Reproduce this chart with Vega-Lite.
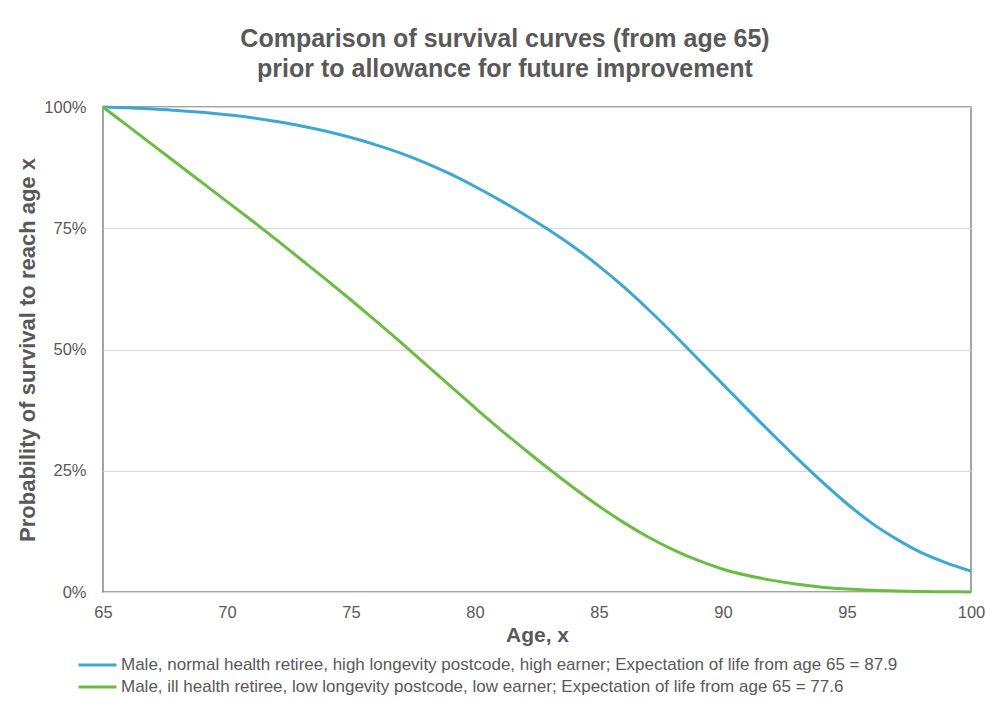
{
  "$schema": "https://vega.github.io/schema/vega-lite/v6.json",
  "width": 868,
  "height": 485,
  "autosize": {"type": "none"},
  "padding": {"left": 103, "top": 107, "right": 15, "bottom": 109},
  "background": "white",
  "title": {
    "text": ["Comparison of survival curves (from age 65)", "prior to allowance for future improvement"],
    "font": "Liberation Sans",
    "fontSize": 25,
    "fontWeight": "bold",
    "color": "#595959",
    "anchor": "middle",
    "frame": "group",
    "dx": -32,
    "offset": 17,
    "lineHeight": 30
  },
  "config": {
    "view": {"stroke": "#868686", "strokeWidth": 1.5},
    "font": "Liberation Sans"
  },
  "data": {
    "values": [
      {"age": 65, "s": "blue", "p": 100}, {"age": 66, "s": "blue", "p": 99.85}, {"age": 67, "s": "blue", "p": 99.6}, {"age": 68, "s": "blue", "p": 99.3}, {"age": 69, "s": "blue", "p": 98.9}, {"age": 70, "s": "blue", "p": 98.4}, {"age": 71, "s": "blue", "p": 97.8}, {"age": 72, "s": "blue", "p": 97.0}, {"age": 73, "s": "blue", "p": 96.1}, {"age": 74, "s": "blue", "p": 95.0}, {"age": 75, "s": "blue", "p": 93.7}, {"age": 76, "s": "blue", "p": 92.2}, {"age": 77, "s": "blue", "p": 90.5}, {"age": 78, "s": "blue", "p": 88.5}, {"age": 79, "s": "blue", "p": 86.2}, {"age": 80, "s": "blue", "p": 83.6}, {"age": 81, "s": "blue", "p": 80.8}, {"age": 82, "s": "blue", "p": 77.8}, {"age": 83, "s": "blue", "p": 74.6}, {"age": 84, "s": "blue", "p": 71.1}, {"age": 85, "s": "blue", "p": 67.2}, {"age": 86, "s": "blue", "p": 62.9}, {"age": 87, "s": "blue", "p": 58.2}, {"age": 88, "s": "blue", "p": 53.2}, {"age": 89, "s": "blue", "p": 48.0}, {"age": 90, "s": "blue", "p": 42.8}, {"age": 91, "s": "blue", "p": 37.6}, {"age": 92, "s": "blue", "p": 32.5}, {"age": 93, "s": "blue", "p": 27.5}, {"age": 94, "s": "blue", "p": 22.7}, {"age": 95, "s": "blue", "p": 18.2}, {"age": 96, "s": "blue", "p": 14.2}, {"age": 97, "s": "blue", "p": 10.9}, {"age": 98, "s": "blue", "p": 8.1}, {"age": 99, "s": "blue", "p": 6.0}, {"age": 100, "s": "blue", "p": 4.3},
      {"age": 65, "s": "green", "p": 100}, {"age": 66, "s": "green", "p": 96.1}, {"age": 67, "s": "green", "p": 92.2}, {"age": 68, "s": "green", "p": 88.3}, {"age": 69, "s": "green", "p": 84.4}, {"age": 70, "s": "green", "p": 80.5}, {"age": 71, "s": "green", "p": 76.6}, {"age": 72, "s": "green", "p": 72.6}, {"age": 73, "s": "green", "p": 68.5}, {"age": 74, "s": "green", "p": 64.4}, {"age": 75, "s": "green", "p": 60.2}, {"age": 76, "s": "green", "p": 55.9}, {"age": 77, "s": "green", "p": 51.5}, {"age": 78, "s": "green", "p": 47.0}, {"age": 79, "s": "green", "p": 42.5}, {"age": 80, "s": "green", "p": 38.0}, {"age": 81, "s": "green", "p": 33.6}, {"age": 82, "s": "green", "p": 29.4}, {"age": 83, "s": "green", "p": 25.3}, {"age": 84, "s": "green", "p": 21.4}, {"age": 85, "s": "green", "p": 17.7}, {"age": 86, "s": "green", "p": 14.3}, {"age": 87, "s": "green", "p": 11.3}, {"age": 88, "s": "green", "p": 8.7}, {"age": 89, "s": "green", "p": 6.5}, {"age": 90, "s": "green", "p": 4.7}, {"age": 91, "s": "green", "p": 3.4}, {"age": 92, "s": "green", "p": 2.4}, {"age": 93, "s": "green", "p": 1.6}, {"age": 94, "s": "green", "p": 1.0}, {"age": 95, "s": "green", "p": 0.6}, {"age": 96, "s": "green", "p": 0.35}, {"age": 97, "s": "green", "p": 0.2}, {"age": 98, "s": "green", "p": 0.1}, {"age": 99, "s": "green", "p": 0.05}, {"age": 100, "s": "green", "p": 0.02}
    ]
  },
  "mark": {"type": "line", "strokeWidth": 3, "interpolate": "monotone"},
  "encoding": {
    "x": {
      "field": "age", "type": "quantitative",
      "scale": {"domain": [65, 100], "nice": false, "zero": false},
      "axis": {
        "values": [65, 70, 75, 80, 85, 90, 95, 100],
        "grid": false, "ticks": false, "domain": false, "labelFlush": false, "labelOverlap": false,
        "labelFontSize": 16.5, "labelColor": "#595959", "labelPadding": 12, "labelFont": "Liberation Sans",
        "title": "Age, x", "titleFontSize": 21, "titleFontWeight": "bold", "titleColor": "#595959", "titlePadding": 4, "titleFont": "Liberation Sans"
      }
    },
    "y": {
      "field": "p", "type": "quantitative",
      "scale": {"domain": [0, 100], "nice": false},
      "axis": {
        "values": [0, 25, 50, 75, 100],
        "labelExpr": "datum.value + '%'",
        "grid": true, "gridColor": "#d9d9d9", "gridWidth": 1.2,
        "ticks": false, "domain": false, "labelFlush": false, "labelOverlap": false,
        "labelFontSize": 16.5, "labelColor": "#595959", "labelPadding": 17, "labelFont": "Liberation Sans",
        "title": "Probability of survival to reach age x", "titleFontSize": 22, "titleFontWeight": "bold", "titleColor": "#595959", "titlePadding": 4, "titleFont": "Liberation Sans"
      }
    },
    "color": {
      "field": "s", "type": "nominal",
      "scale": {"domain": ["blue", "green"], "range": ["#3da8d2", "#6bbd42"]},
      "legend": {
        "title": null,
        "orient": "none",
        "legendX": -26,
        "legendY": 548,
        "symbolType": "stroke",
        "symbolSize": 1444,
        "symbolStrokeWidth": 3,
        "clipHeight": 20,
        "rowPadding": 2,
        "labelFontSize": 17,
        "labelColor": "#595959",
        "labelFont": "Liberation Sans",
        "labelLimit": 900,
        "labelOffset": 3,
        "labelExpr": "datum.value == 'blue' ? 'Male, normal health retiree, high longevity postcode, high earner; Expectation of life from age 65 = 87.9' : 'Male, ill health retiree, low longevity postcode, low earner; Expectation of life from age 65 = 77.6'"
      }
    }
  }
}
